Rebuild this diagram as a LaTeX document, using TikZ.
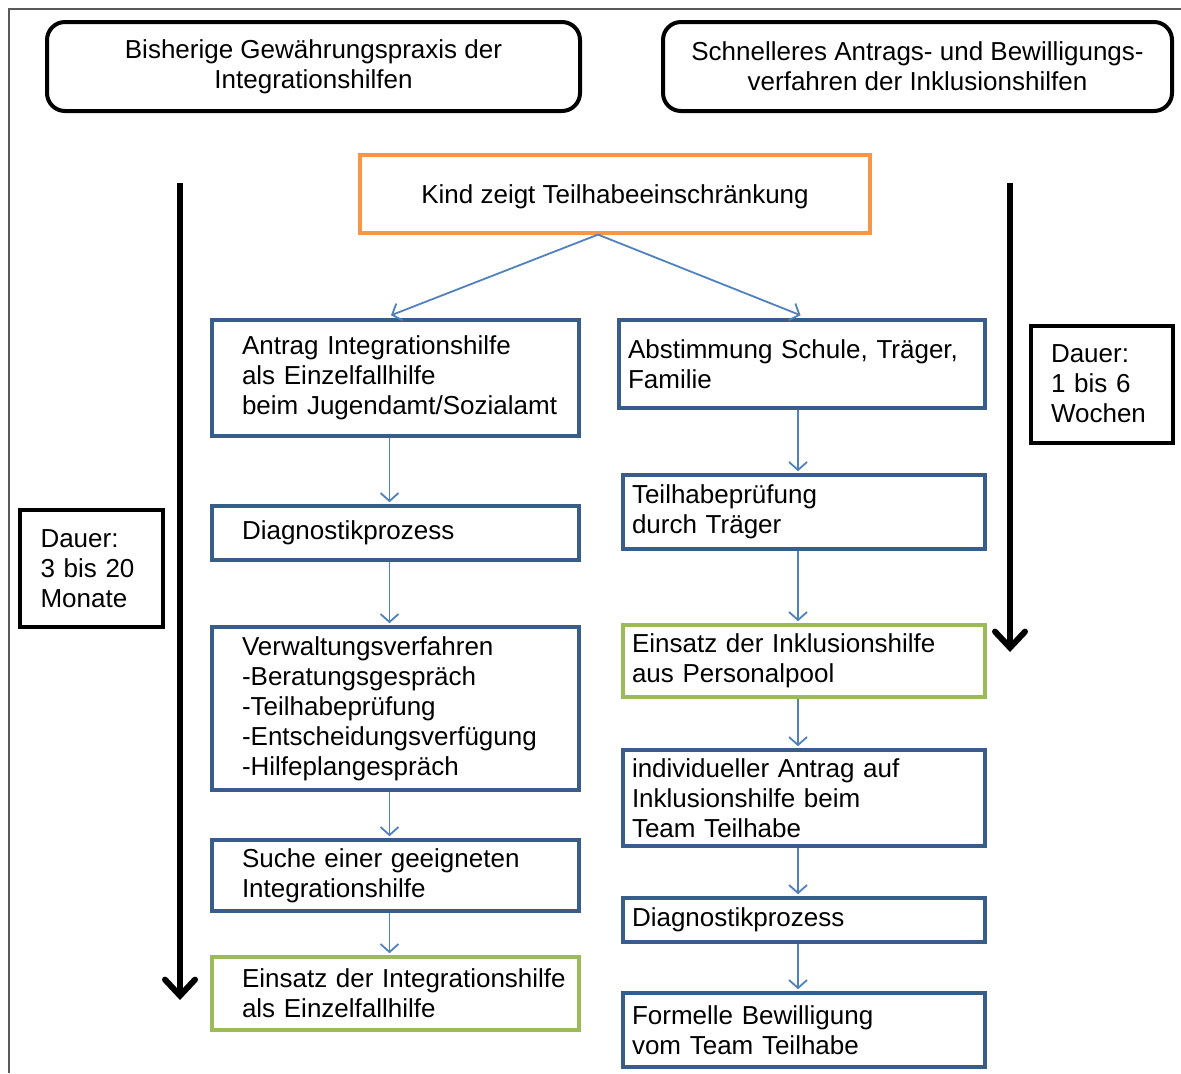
\documentclass[tikz,border=0pt]{standalone}
\usepackage{fontspec}
\setmainfont{Liberation Sans}
\usetikzlibrary{arrows.meta}

\definecolor{boxblue}{RGB}{56,93,138}
\definecolor{flowblue}{RGB}{79,129,189}
\definecolor{boxgreen}{RGB}{155,187,89}
\definecolor{boxorange}{RGB}{247,150,70}

\hyphenpenalty=10000
\exhyphenpenalty=10000

\begin{document}
\begin{tikzpicture}[x = 0.5pt, y = -0.5pt,
	every node/.style = {font = \fontsize{13pt}{15pt}\selectfont, inner ysep = 0pt},
	head/.style = {draw, line width = 2pt, rounded corners = 9pt, align = center},
	leftbox/.style = {draw = boxblue, line width = 1.8pt, inner xsep = 15pt, text width = 153.5pt, align = left},
	rightbox/.style = {draw = boxblue, line width = 1.8pt, inner xsep = 4.5pt, text width = 172pt, align = left},
	dauerbox/.style = {draw, line width = 2pt, inner xsep = 10pt, text width = 51pt, minimum height = 58.5pt, align = left},
	flow/.style = {draw = flowblue, line width = 0.9pt, -{Straight Barb[length = 4pt, width = 9pt]}, shorten > = 1pt},
	timeline/.style = {line width = 3pt, -{Straight Barb[length = 8pt, width = 15pt, line cap = round]}}]
	\useasboundingbox (0,0) rectangle (1181,1073);
	\draw[gray!70!black, line width = 0.8pt] (9,1073) -- (9,9) -- (1181,9);

	\node[head, minimum width = 266.5pt, minimum height = 44.5pt] (alt) at (313.5,66.5)
		{Bisherige Gewährungspraxis der\\Integrationshilfen};
	\node[head, minimum width = 254.5pt, minimum height = 44.5pt] (neu) at (917.5,66.5)
		{Schnelleres Antrags- und Bewilligungs-\\verfahren der Inklusionshilfen};

	\node[draw = boxorange, line width = 1.6pt, minimum width = 255pt, minimum height = 39pt, text depth = 0pt] (kind) at (615,194)
		{Kind zeigt Teilhabeeinschränkung};

	% bisheriger Weg
	\node[leftbox, minimum height = 58pt] (antrag) at (395.5,378)
		{Antrag Integrationshilfe\\als Einzelfallhilfe\\beim~Jugendamt/Sozialamt};
	\node[leftbox, minimum height = 27pt] (diagA) at (395.5,533)
		{Diagnostikprozess};
	\node[leftbox, minimum height = 81.5pt] (verw) at (395.5,708.5)
		{Verwaltungsverfahren\\-Beratungsgespräch\\-Teilhabeprüfung\\-Entscheidungsverfügung\\-Hilfeplangespräch};
	\node[leftbox, minimum height = 35.5pt] (suche) at (395.5,875.5)
		{Suche~einer~geeigneten\\Integrationshilfe};
	\node[leftbox, draw = boxgreen, minimum height = 36.5pt] (einsatzA) at (395.5,993.5)
		{Einsatz~der~Integrationshilfe\\als Einzelfallhilfe};

	% neuer Weg
	\node[rightbox, text width = 174pt, minimum height = 44pt] (abst) at (802,364)
		{Abstimmung Schule, Träger,\\Familie};
	\node[rightbox, minimum height = 37pt] (pruef) at (804,512)
		{Teilhabeprüfung\\durch Träger};
	\node[rightbox, draw = boxgreen, minimum height = 36pt] (einsatzB) at (804,661)
		{Einsatz der Inklusionshilfe\\aus Personalpool};
	\node[rightbox, minimum height = 48pt] (indiv) at (804,798)
		{individueller Antrag auf\\Inklusionshilfe beim\\Team Teilhabe};
	\node[rightbox, minimum height = 22pt] (diagB) at (804,920)
		{Diagnostikprozess};
	\node[rightbox, minimum height = 37pt] (bewill) at (804,1030)
		{Formelle Bewilligung\\vom Team Teilhabe};

	\node[dauerbox, minimum width = 71.5pt] (dauerA) at (91.5,568.5)
		{Dauer:\\3 bis 20\\Monate};
	\node[dauerbox, minimum width = 70pt] (dauerB) at (1102,384)
		{Dauer:\\1 bis 6\\Wochen};

	\draw[flow, shorten > = 4pt] ([xshift = -8.5pt]kind.south) -- ([xshift = -6pt]antrag.north);
	\draw[flow, shorten > = 4pt] ([xshift = -8.5pt]kind.south) -- ([xshift = 3pt]abst.north);
	\draw[flow] ([xshift = -3pt]antrag.south) -- ([xshift = -3pt]diagA.north);
	\draw[flow] ([xshift = -3pt]diagA.south) -- ([xshift = -3pt]verw.north);
	\draw[flow] ([xshift = -3pt]verw.south) -- ([xshift = -3pt]suche.north);
	\draw[flow] ([xshift = -3pt]suche.south) -- ([xshift = -3pt]einsatzA.north);
	\draw[flow] ([xshift = -2pt]abst.south) -- ([xshift = -3pt]pruef.north);
	\draw[flow] ([xshift = -3pt]pruef.south) -- ([xshift = -3pt]einsatzB.north);
	\draw[flow] ([xshift = -3pt]einsatzB.south) -- ([xshift = -3pt]indiv.north);
	\draw[flow] ([xshift = -3pt]indiv.south) -- ([xshift = -3pt]diagB.north);
	\draw[flow] ([xshift = -3pt]diagB.south) -- ([xshift = -3pt]bewill.north);

	\coordinate (zeitA) at (180,183);
	\coordinate (endeA) at (180,1000);
	\coordinate (zeitB) at (1010,183);
	\coordinate (endeB) at (1010,652);
	\draw[timeline] (zeitA) -- (endeA);
	\draw[timeline] (zeitB) -- (endeB);
\end{tikzpicture}
\end{document}
